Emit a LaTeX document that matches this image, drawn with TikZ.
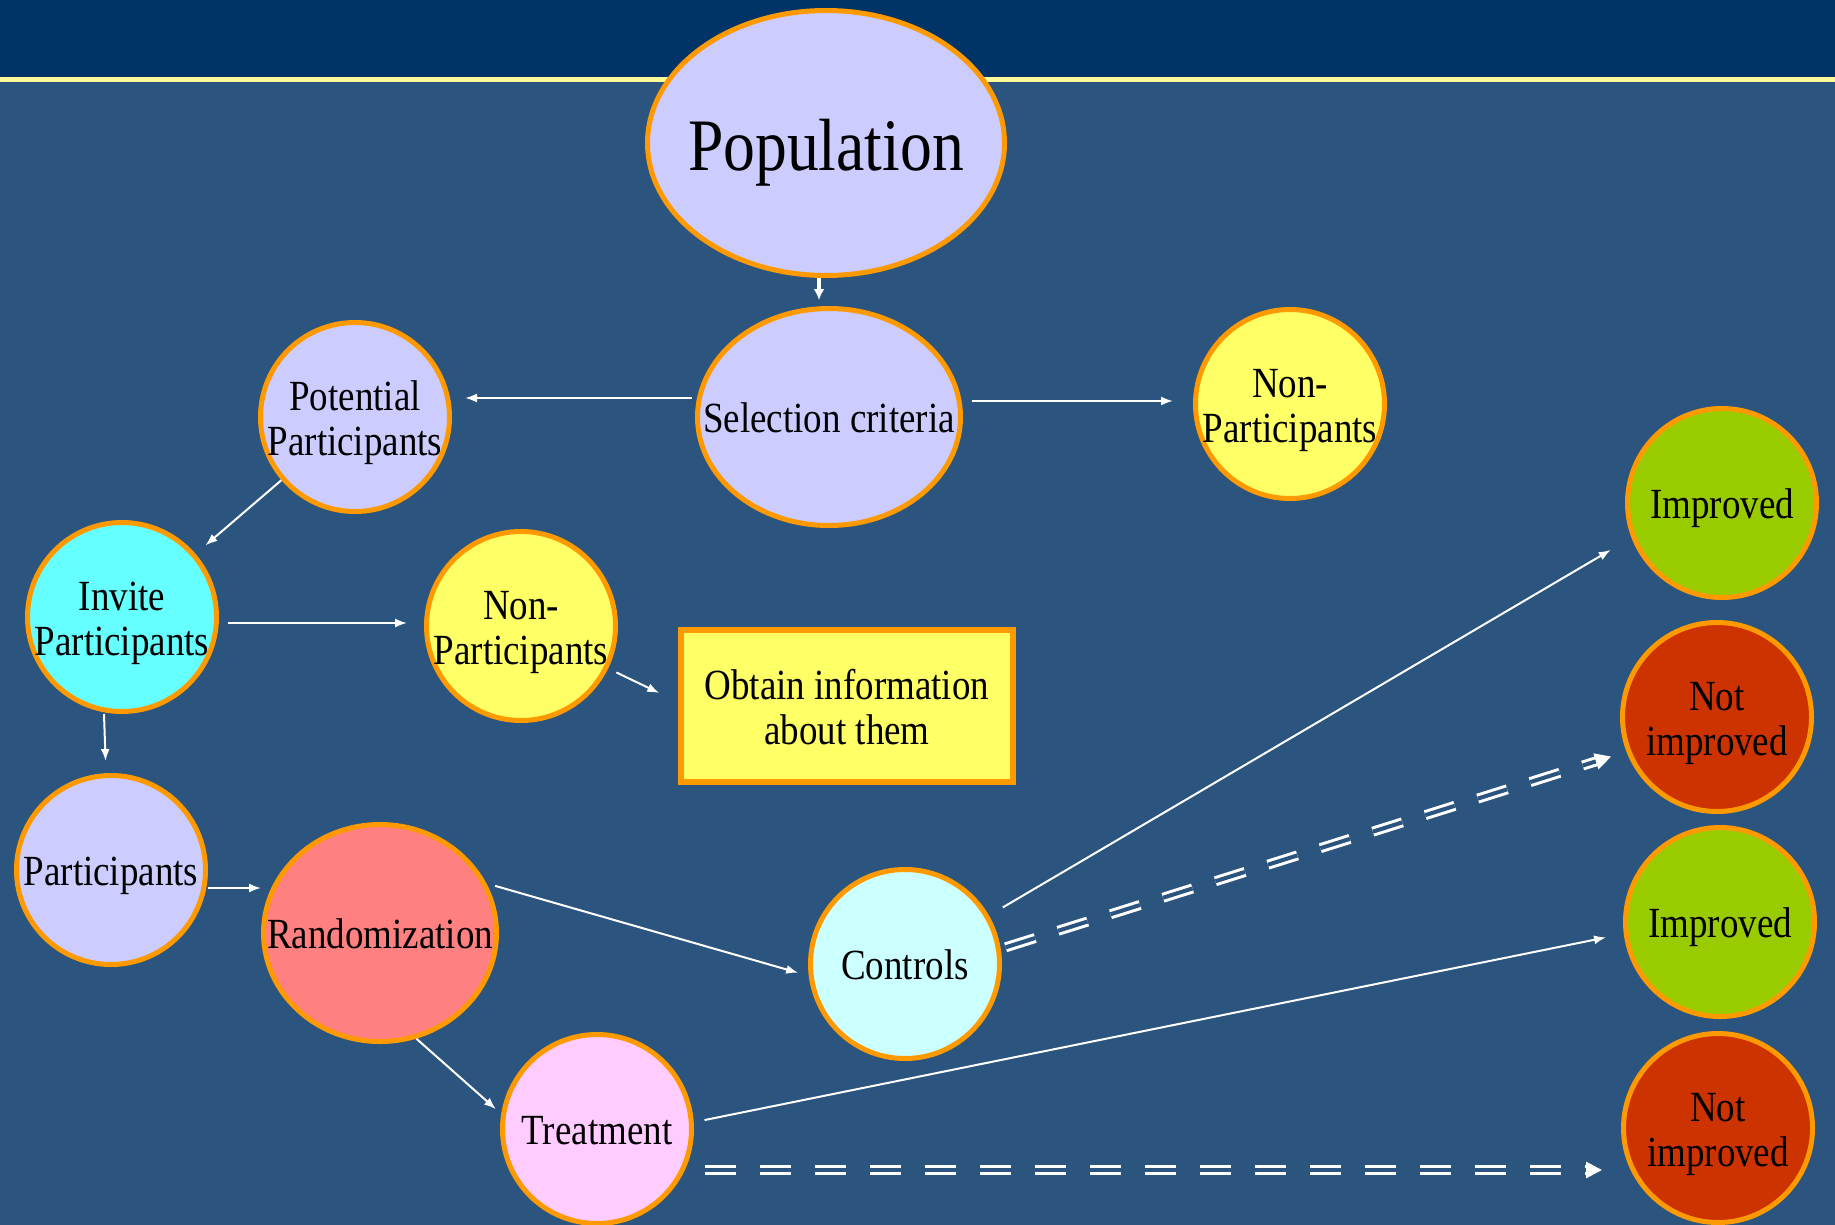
\documentclass[tikz,border=0pt]{standalone}
\usepackage{fontspec}
\setmainfont[FakeStretch=0.86]{Liberation Serif}
\usetikzlibrary{shapes.geometric,arrows.meta}
\definecolor{navy}{RGB}{0,51,102}
\definecolor{slide}{RGB}{43,84,126}
\definecolor{rule}{RGB}{255,255,153}
\definecolor{rim}{RGB}{255,153,0}
\definecolor{lav}{RGB}{204,204,255}
\definecolor{yel}{RGB}{255,255,102}
\definecolor{aqua}{RGB}{102,255,255}
\definecolor{icy}{RGB}{204,255,255}
\definecolor{salmon}{RGB}{255,128,128}
\definecolor{pinky}{RGB}{255,204,255}
\definecolor{leaf}{RGB}{153,204,0}
\definecolor{rust}{RGB}{204,51,0}
\newcommand\bubtext[1]{\makebox[0pt]{\raisebox{-0.16em}[\height][\depth]{\begin{tabular}{@{}c@{}}#1\end{tabular}}}}
\begin{document}
\begin{tikzpicture}[x=1pt,y=-1pt,>={Latex[length=12pt,width=9pt]},
  bub/.style={circle,draw=rim,line width=5pt,minimum size=189pt,inner sep=0pt,font=\fontsize{43}{45}\selectfont},
  oval/.style={bub,ellipse},
  arr/.style={white,line width=2pt,->},
  ddash/.style={draw=white,double=slide,double distance=4pt,line width=3pt,dash pattern=on 31pt off 24pt,-{Triangle[length=16pt,width=16pt]}}]
\useasboundingbox (0,0) rectangle (1835,1225);
\fill[slide] (0,0) rectangle (1835,1225);
\fill[navy] (0,0) rectangle (1835,77);
\fill[rule] (0,77) rectangle (1835,82);
\node[oval,fill=lav,minimum width=357pt,minimum height=265pt,font=\fontsize{74}{80}\selectfont] (pop) at (826,143) {\bubtext{Population}};
\node[oval,fill=lav,minimum width=263pt,minimum height=217pt] (sel) at (829,417) {\bubtext{Selection criteria}};
\node[bub,fill=lav] (pot) at (355,417) {\bubtext{Potential\\Participants}};
\node[bub,fill=yel] (np1) at (1290,404) {\bubtext{Non-\\Participants}};
\node[bub,fill=aqua] (inv) at (122,617) {\bubtext{Invite\\Participants}};
\node[bub,fill=yel] (np2) at (521,626) {\bubtext{Non-\\Participants}};
\node[draw=rim,line width=5.5pt,fill=yel,minimum width=332pt,minimum height=152pt,inner sep=0pt,font=\fontsize{43}{45}\selectfont] (info) at (847,706) {\bubtext{Obtain information\\about them}};
\node[bub,fill=lav] (part) at (111,870) {\bubtext{Participants}};
\node[oval,fill=salmon,minimum width=233pt,minimum height=217pt] (rand) at (380,933) {\bubtext{Randomization}};
\node[bub,fill=icy] (ctrl) at (905,964) {\bubtext{Controls}};
\node[bub,fill=pinky] (treat) at (597,1129) {\bubtext{Treatment}};
\node[bub,fill=leaf] (imp1) at (1722,503) {\bubtext{Improved}};
\node[bub,fill=rust] (nimp1) at (1717,717) {\bubtext{Not\\improved}};
\node[bub,fill=leaf] (imp2) at (1720,922) {\bubtext{Improved}};
\node[bub,fill=rust] (nimp2) at (1718,1128) {\bubtext{Not\\improved}};
\draw[white,line width=4pt,-{Latex[length=11pt,width=11pt]},shorten >=6pt] ([xshift=-7pt]pop.south) -- ([xshift=-10pt]sel.north);
\draw[arr,shorten <=3pt,shorten >=13pt] ([yshift=19pt]sel.west) -- ([yshift=19pt]pot.east);
\draw[arr,shorten <=9pt,shorten >=20pt] ([yshift=16pt]sel.east) -- ([yshift=3pt]np1.west);
\draw[arr,shorten >=13pt] (pot) -- (inv);
\draw[arr,shorten <=9pt,shorten >=17pt] ([yshift=-6pt]inv.east) -- ([yshift=3pt]np2.west);
\draw[arr,shorten <=9pt] (np2.-26) -- ([xshift=-19pt,yshift=13pt]info.west);
\draw[arr,shorten >=12pt] ([xshift=-18pt]inv.south) -- ([xshift=-5pt]part.north);
\draw[arr] ([yshift=-18pt]part.east) -- ([yshift=45pt]rand.west);
\draw[arr,shorten <=9pt,shorten >=11pt] (rand.25) -- (ctrl.187);
\draw[arr,shorten >=7pt] (rand.-71) -- (treat.171);
\draw[arr,shorten <=16pt,shorten >=24pt] (ctrl.30) -- (imp1.201);
\draw[ddash,shorten <=5pt,shorten >=16pt] (ctrl.9) -- (nimp1.201);
\draw[arr,shorten <=11pt,shorten >=18pt] (treat.4) -- (imp2.187);
\draw[ddash,shorten <=11pt,shorten >=19pt] ([yshift=-41pt]treat.east) -- ([yshift=-42pt]nimp2.west);
\end{tikzpicture}
\end{document}
